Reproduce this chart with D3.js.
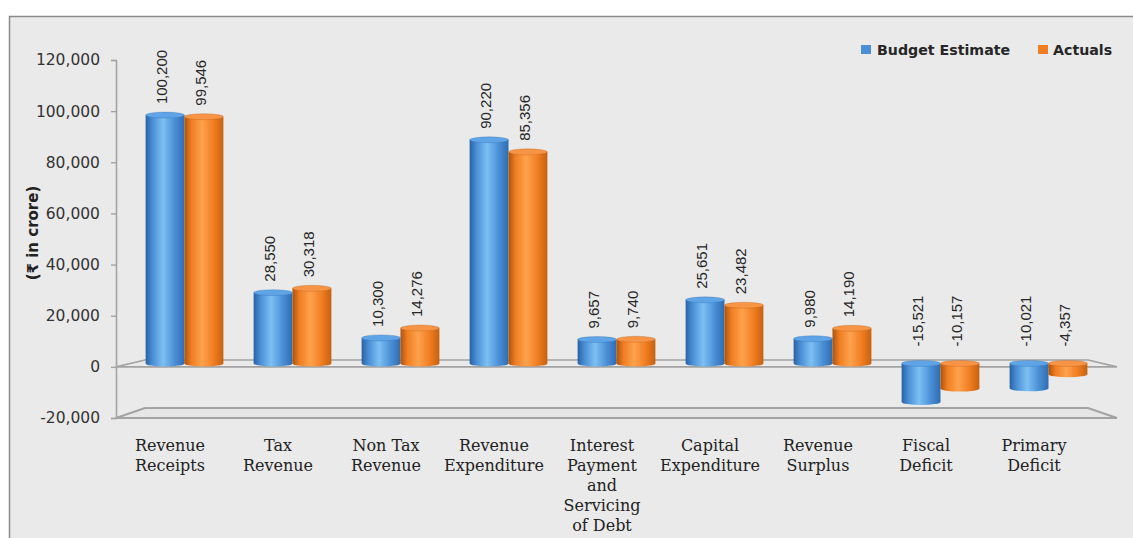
<!DOCTYPE html>
<html>
<head>
<meta charset="utf-8">
<script src="https://cdn.jsdelivr.net/npm/d3@7"></script>
<style>
  html, body { margin: 0; padding: 0; background: #ffffff; }
  svg { display: block; }
</style>
</head>
<body>
<svg id="chart" width="1133" height="538"></svg>
<script>
// Budget vs actual figures (₹ in crore)
const categories = [
  ["Revenue", "Receipts"],
  ["Tax", "Revenue"],
  ["Non Tax", "Revenue"],
  ["Revenue", "Expenditure"],
  ["Interest", "Payment", "and", "Servicing", "of Debt"],
  ["Capital", "Expenditure"],
  ["Revenue", "Surplus"],
  ["Fiscal", "Deficit"],
  ["Primary", "Deficit"]
];
const budgetEstimate = [100200, 28550, 10300, 90220, 9657, 25651, 9980, -15521, -10021];
const actuals = [99546, 30318, 14276, 85356, 9740, 23482, 14190, -10157, -4357];
const seriesNames = ["Budget Estimate", "Actuals"];
const yTicks = [-20000, 0, 20000, 40000, 60000, 80000, 100000, 120000];

const svg = d3.select("#chart");
const W = 1133, H = 538;

// thousands separator with a plain hyphen for negatives
const fmt = d3.formatLocale({ decimal: ".", thousands: ",", grouping: [3], currency: ["", ""], minus: "-" }).format(",");

// chart frame
svg.append("rect")
  .attr("x", 9.5).attr("y", 16.5)
  .attr("width", W + 10).attr("height", H + 10)
  .attr("fill", "#eaeaea").attr("stroke", "#8c8c8c").attr("stroke-width", 1.5);

// front plane and back plane geometry of the 3-D box
const frontX = [116, 1088], backX = [145, 1117];
const midX = [130.5, 1102.5];

const yFront = d3.scaleLinear().domain([-20000, 120000]).range([418, 60]);
const yBack = d3.scaleLinear().domain([-20000, 120000]).range([408, 72]);
const yMid = d3.scaleLinear().domain([-20000, 120000]).range([413, 66]);

const idx = d3.range(categories.length);
const xLabel = d3.scaleBand().domain(idx).range(frontX).paddingInner(0.28).paddingOuter(0.14);
const xBar = d3.scaleBand().domain(idx).range(midX).paddingInner(0.28).paddingOuter(0.14);
const xSeries = d3.scaleBand().domain([0, 1]).range([0, xBar.bandwidth()]);

const lineCol = "#a3a3a3";

// floor (at the axis minimum)
const floorPts = [[frontX[0], yFront(-20000)], [backX[0] , yBack(-20000)],
                  [frontX[1], yBack(-20000)], [backX[1], yFront(-20000)]];
svg.append("path")
  .attr("d", d3.line()(floorPts) + "Z")
  .attr("fill", "#e6e6e6").attr("stroke", lineCol).attr("stroke-width", 2);

// zero plane
const zeroPts = [[frontX[0], yFront(0)], [backX[0], yBack(0)],
                 [frontX[1], yBack(0)], [backX[1], yFront(0)]];
svg.append("path")
  .attr("d", d3.line()(zeroPts) + "Z")
  .attr("fill", "none").attr("stroke", lineCol).attr("stroke-width", 1.6);

// y axis
const yAxis = d3.axisLeft(yFront).tickValues(yTicks).tickSize(5).tickPadding(11)
  .tickFormat(fmt);
const gy = svg.append("g").attr("transform", `translate(${frontX[0]},0)`).call(yAxis);
gy.select(".domain").attr("stroke", lineCol).attr("stroke-width", 1.6);
gy.selectAll(".tick line").attr("stroke", lineCol).attr("stroke-width", 1.4);
gy.selectAll(".tick text")
  .attr("font-family", "'DejaVu Sans', sans-serif")
  .attr("font-size", 15.5).attr("fill", "#333");

// y axis title
svg.append("text")
  .attr("transform", "translate(38,233) rotate(-90)")
  .attr("text-anchor", "middle")
  .attr("font-family", "'DejaVu Sans', 'Noto Sans', sans-serif")
  .attr("font-weight", "bold").attr("font-size", 15).attr("fill", "#222")
  .text("(₹ in crore)");

// cylinder gradients
const defs = svg.append("defs");
const palettes = [
  { dark: "#2a62a3", mid: "#4a8fd6", light: "#7cc0f3", edge: "#2f6cb0", cap: "#5ea4e6" },
  { dark: "#b0520d", mid: "#f07e22", light: "#ffa24d", edge: "#c7610f", cap: "#f79445" }
];
palettes.forEach((p, i) => {
  const g = defs.append("linearGradient").attr("id", "cyl" + i)
    .attr("x1", "0%").attr("x2", "100%").attr("y1", "0%").attr("y2", "0%");
  g.append("stop").attr("offset", "0%").attr("stop-color", p.dark);
  g.append("stop").attr("offset", "18%").attr("stop-color", p.mid);
  g.append("stop").attr("offset", "45%").attr("stop-color", p.light);
  g.append("stop").attr("offset", "75%").attr("stop-color", p.mid);
  g.append("stop").attr("offset", "100%").attr("stop-color", p.edge);
});

const series = [budgetEstimate, actuals];
const capRy = 3;
const barsG = svg.append("g");
series.forEach((vals, s) => {
  const g = barsG.selectAll(null).data(vals).enter().append("g");
  const x0 = (d, i) => xBar(i) + xSeries(s);
  const w = xSeries.bandwidth();
  const yTop = d => yMid(Math.max(d, 0));
  const yBot = d => yMid(Math.min(d, 0));
  // bottom cap
  g.append("ellipse")
    .attr("cx", (d, i) => x0(d, i) + w / 2).attr("cy", yBot)
    .attr("rx", w / 2).attr("ry", capRy)
    .attr("fill", `url(#cyl${s})`);
  // body
  g.append("rect")
    .attr("x", x0).attr("y", yTop)
    .attr("width", w).attr("height", d => yBot(d) - yTop(d))
    .attr("fill", `url(#cyl${s})`);
  // top cap
  g.append("ellipse")
    .attr("cx", (d, i) => x0(d, i) + w / 2).attr("cy", yTop)
    .attr("rx", w / 2).attr("ry", capRy)
    .attr("fill", palettes[s].cap).attr("stroke", palettes[s].dark)
    .attr("stroke-opacity", 0.35).attr("stroke-width", 0.8);
});

// value labels, rotated
series.forEach((vals, s) => {
  svg.append("g").selectAll("text").data(vals).enter().append("text")
    .attr("transform", (d, i) => {
      const cx = xBar(i) + xSeries(s) + xSeries.bandwidth() / 2 - 3;
      const y = d >= 0 ? yMid(d) - 11 : yMid(0) - 17;
      return `translate(${cx},${y}) rotate(-90)`;
    })
    .attr("dy", "0.35em")
    .attr("text-anchor", "start")
    .attr("font-family", "'Liberation Sans', Arial, sans-serif")
    .attr("font-size", 15).attr("fill", "#262626")
    .text(d => fmt(d));
});

// category labels
const catG = svg.append("g").selectAll("text").data(categories).enter().append("text")
  .attr("x", (d, i) => xLabel(i) + xLabel.bandwidth() / 2)
  .attr("y", 451)
  .attr("text-anchor", "middle")
  .attr("font-family", "'DejaVu Serif', serif")
  .attr("font-size", 16).attr("fill", "#222");
catG.each(function(lines, i) {
  const t = d3.select(this);
  lines.forEach((ln, j) => {
    t.append("tspan")
      .attr("x", xLabel(i) + xLabel.bandwidth() / 2)
      .attr("dy", j === 0 ? 0 : 20)
      .text(ln);
  });
});

// legend
const legendItems = [
  { name: seriesNames[0], color: "#4a8fd6", sx: 861, tx: 877 },
  { name: seriesNames[1], color: "#f07e22", sx: 1038, tx: 1053 }
];
const lg = svg.append("g");
legendItems.forEach(it => {
  lg.append("rect").attr("x", it.sx).attr("y", 45).attr("width", 10).attr("height", 9)
    .attr("fill", it.color);
  lg.append("text").attr("x", it.tx).attr("y", 54.5)
    .attr("font-family", "'DejaVu Sans', sans-serif")
    .attr("font-weight", "bold").attr("font-size", 14.2).attr("fill", "#262626")
    .text(it.name);
});
</script>
</body>
</html>
